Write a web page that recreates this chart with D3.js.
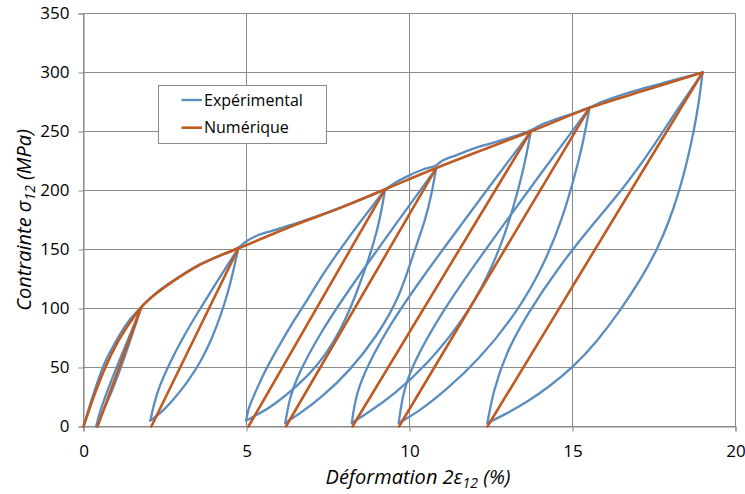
<!DOCTYPE html>
<html><head><meta charset="utf-8">
<script src="https://cdn.jsdelivr.net/npm/d3@7"></script>
<style>
body{margin:0;background:#fff;}
text{font-family:"Open Sans",sans-serif;fill:#000;}
</style>
</head><body>
<svg id="chart" width="745" height="494"></svg>
<script>
// ---------- data ----------
const xTicks = [0, 5, 10, 15, 20];
const yTicks = [0, 50, 100, 150, 200, 250, 300, 350];
const seriesNames = ["Expérimental", "Numérique"];

// Experimental envelope (monotonic loading curve)
const expEnvelope = [[0,0],[0.3,27],[0.62,52],[0.95,70],[1.35,88],[1.77,101],[2.2,112.5],[2.8,124.5],[3.5,136.5],[4.2,145],[4.8,152.5],[5.0,157],[5.3,161.5],[5.8,166],[6.5,172],[7.3,179.5],[8.2,189],[8.8,195.5],[9.25,201],[9.5,205.5],[9.82,210.5],[10.43,218],[10.82,221.5],[10.94,224],[11.45,230],[11.96,235.5],[12.5,240],[12.99,244],[13.72,251],[14.06,256],[14.5,260.5],[15.03,265.5],[15.52,270.5],[15.85,274.5],[16.56,281.5],[17.1,286],[17.59,289.5],[18.3,295],[18.99,300]];

// Experimental unloading branches (peak -> residual)
const expUnload = [
  [[1.77,101],[1.651,90.9],[1.53,80.8],[1.345,65.7],[1.155,50.5],[0.948,35.4],[0.721,20.2],[0.558,10.1],[0.39,0]],
  [[4.75,151],[4.62,135],[4.45,115],[4.22,95],[3.95,75],[3.6,55],[3.2,38],[2.8,24],[2.4,12],[2.05,5]],
  [[9.25,201],[9.15,184],[9.0,165],[8.74,141],[8.4,115],[8.08,93],[7.67,71],[7.16,51],[6.55,34],[5.83,18],[5.4,11],[4.99,5]],
  [[10.82,219],[10.68,197.4],[10.5,175.8],[10.08,143.4],[9.71,111],[9.06,78.6],[8.14,46.2],[7.3,24.6],[6.64,11],[6.19,3]],
  [[13.72,250],[13.555,225.3],[13.336,200.6],[12.952,163.6],[12.402,126.5],[11.634,89.5],[10.536,52.4],[9.548,27.7],[8.75,12],[8.23,3]],
  [[15.52,270],[15.345,243.3],[15.111,216.6],[14.702,176.6],[14.116,136.5],[13.298,96.5],[12.127,56.4],[11.074,29.7],[10.25,12],[9.67,3]],
  [[18.99,300],[18.88,275],[18.72,250],[18.52,225],[18.28,200],[17.98,175],[17.6,150],[17.1,125],[16.46,98],[15.75,72],[15.03,50.5],[14.25,33],[13.62,21],[12.99,11],[12.39,3]]
];

// Experimental reloading branches (residual -> peak)
const expReload = [
  [[0.39,0],[0.478,10.1],[0.6,20.2],[0.804,35.4],[1.019,50.5],[1.246,65.7],[1.472,80.8],[1.621,90.9],[1.77,101]],
  [[2.05,5],[2.15,18],[2.32,34],[2.68,56],[3.1,78],[3.58,100],[4.08,122],[4.42,137],[4.75,151]],
  [[4.99,5],[5.05,15],[5.21,25],[5.52,45],[5.93,65],[6.34,85],[6.75,102],[7.36,130],[7.87,150],[8.39,170],[8.79,184],[9.25,201]],
  [[6.19,3],[6.32,24.6],[6.62,46.2],[7.25,78.6],[8.02,111],[8.85,143.4],[9.69,175.8],[10.26,197.4],[10.82,219]],
  [[8.23,3],[8.36,27.7],[8.72,52.4],[9.466,89.5],[10.399,126.5],[11.387,163.6],[12.375,200.6],[13.05,225.3],[13.72,250]],
  [[9.67,3],[9.8,29.7],[10.16,56.4],[10.987,96.5],[11.981,136.5],[13.034,176.6],[14.087,216.6],[14.806,243.3],[15.52,270]],
  [[12.39,3],[12.55,28],[12.95,62],[13.62,96],[14.6,136],[15.58,170],[16.6,203],[17.55,240],[18.2,268],[18.99,300]]
];

// Numerical model
const numEnvelope = [[0,0],[0.35,28],[0.7,52],[1.0,69],[1.4,87],[1.77,101],[2.2,112],[2.8,124],[3.5,136],[4.2,145],[4.75,151],[6.5,171],[7.9,185.5],[9.25,201],[10.82,219],[12.3,235],[13.72,250],[15.52,270],[17.3,285.5],[18.99,300]];
const numPeaks = [[1.77,101],[4.75,151],[9.25,201],[10.82,219],[13.72,250],[15.52,270],[18.99,300]];
const numResidual = [0.43, 2.08, 5.06, 6.21, 8.25, 9.68, 12.39];

// ---------- chart ----------
const blue = "#5A8DBF", orange = "#BE5A22", gridCol = "#8A8A8A";
const svg = d3.select("#chart");
const x = d3.scaleLinear().domain([0, 20]).range([83.5, 735.5]);
const y = d3.scaleLinear().domain([0, 350]).range([426.5, 13.5]);

// grid
const g = svg.append("g");
g.selectAll("line.h").data(yTicks).join("line")
  .attr("x1", x(0)).attr("x2", x(20)).attr("y1", d => y(d)).attr("y2", d => y(d))
  .attr("stroke", gridCol).attr("stroke-width", 1);
g.selectAll("line.v").data(xTicks).join("line")
  .attr("y1", y(0)).attr("y2", y(350)).attr("x1", d => x(d)).attr("x2", d => x(d))
  .attr("stroke", gridCol).attr("stroke-width", 1);

// axes
const xAxis = d3.axisBottom(x).tickValues(xTicks).tickSize(5).tickPadding(13).tickFormat(d3.format("d"));
const yAxis = d3.axisLeft(y).tickValues(yTicks).tickSize(5).tickPadding(9).tickFormat(d3.format("d"));
const gx = svg.append("g").attr("transform", `translate(0,${y(0)})`).call(xAxis);
const gy = svg.append("g").attr("transform", `translate(${x(0)},0)`).call(yAxis);
[gx, gy].forEach(a => {
  a.select(".domain").attr("stroke", gridCol);
  a.selectAll(".tick line").attr("stroke", gridCol);
  a.selectAll(".tick text").attr("font-family", '"Open Sans", sans-serif').attr("font-size", 17).attr("fill", "#000");
});

// lines
const envLine = d3.line().x(d => x(d[0])).y(d => y(d[1])).curve(d3.curveMonotoneX);
const loopLine = d3.line().x(d => x(d[0])).y(d => y(d[1])).curve(d3.curveBasis);
const straight = d3.line().x(d => x(d[0])).y(d => y(d[1]));

const exp = svg.append("g").attr("fill", "none").attr("stroke", blue).attr("stroke-width", 2.3)
  .attr("stroke-linejoin", "round").attr("stroke-linecap", "round");
exp.append("path").attr("d", envLine(expEnvelope));
expUnload.forEach(c => exp.append("path").attr("d", loopLine(c)));
expReload.forEach(c => exp.append("path").attr("d", loopLine(c)));

const num = svg.append("g").attr("fill", "none").attr("stroke", orange).attr("stroke-width", 2.6)
  .attr("stroke-linejoin", "round").attr("stroke-linecap", "round");
num.append("path").attr("d", envLine(numEnvelope));
numPeaks.forEach((p, i) => num.append("path").attr("d", straight([[numResidual[i], 0], p])));

// legend
const lg = svg.append("g");
lg.append("rect").attr("x", 158.5).attr("y", 85.5).attr("width", 168).attr("height", 58)
  .attr("fill", "#fff").attr("stroke", gridCol).attr("stroke-width", 1);
[blue, orange].forEach((c, i) => {
  const yy = 100 + i * 27.7;
  lg.append("line").attr("x1", 181.5).attr("x2", 202).attr("y1", yy).attr("y2", yy)
    .attr("stroke", c).attr("stroke-width", i ? 2.6 : 2.3);
  lg.append("text").attr("x", 204).attr("y", yy).attr("dy", "0.35em")
    .attr("font-size", 16).text(seriesNames[i]);
});

// axis titles
const xt = svg.append("text").attr("x", 418).attr("y", 484).attr("text-anchor", "middle")
  .attr("font-size", 20).attr("font-style", "italic");
xt.append("tspan").text("Déformation 2ε");
xt.append("tspan").attr("dy", 4).attr("font-size", 14).text("12");
xt.append("tspan").attr("dy", -4).text(" (%)");

const yt = svg.append("text").attr("transform", "translate(31,220) rotate(-90)").attr("text-anchor", "middle")
  .attr("font-size", 20).attr("font-style", "italic");
yt.append("tspan").text("Contrainte σ");
yt.append("tspan").attr("dy", 4).attr("font-size", 14).text("12");
yt.append("tspan").attr("dy", -4).text(" (MPa)");
</script>
</body></html>
